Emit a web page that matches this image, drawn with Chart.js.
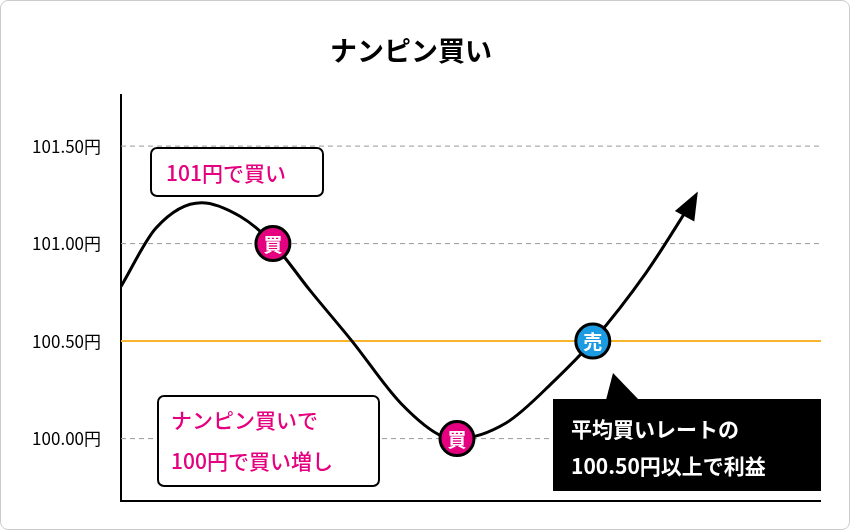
<!DOCTYPE html>
<html><head><meta charset="utf-8">
<script src="https://cdn.jsdelivr.net/npm/chart.js@4/dist/chart.umd.min.js"></script>
<style>
html,body{margin:0;padding:0;background:#fff;}
#wrap{position:relative;width:850px;height:530px;box-sizing:border-box;border:1px solid #ccc;border-radius:8px;overflow:hidden;}
canvas{position:absolute;left:0;top:0;}
</style></head><body>
<div id="wrap"><canvas id="c" width="850" height="530"></canvas></div>
<script>
const title = "ナンピン買い";
const tickValues = [100.00, 100.50, 101.00, 101.50];
const avgRate = 100.50;
const curveX = [0, 5, 11.5, 17, 21.7, 27, 33, 40, 46, 48, 55, 62, 67.4, 75, 82];
const curveY = [100.78, 101.08, 101.21, 101.14, 101.0, 100.76, 100.5, 100.18, 100.01, 100.0, 100.08, 100.3, 100.5, 100.85, 101.24];
const markerX = [21.7, 48, 67.4];
const markerY = [101.0, 100.0, 100.5];
const markerLabels = ["買", "買", "売"];
const noteTop = ["101円で買い"];
const noteBottom = ["ナンピン買いで", "100円で買い増し"];
const noteSell = ["平均買いレートの", "100.50円以上で利益"];

const PINK = "#e4007f", BLUE = "#1b9ce2", FONT = "'Noto Sans CJK JP','Noto Sans',sans-serif";

function rrect(ctx, x, y, w, h, r) {
  ctx.beginPath(); ctx.moveTo(x + r, y); ctx.arcTo(x + w, y, x + w, y + h, r);
  ctx.arcTo(x + w, y + h, x, y + h, r); ctx.arcTo(x, y + h, x, y, r); ctx.arcTo(x, y, x + w, y, r); ctx.closePath();
}

const bgPlugin = {
  id: 'bg',
  beforeDatasetsDraw(chart) {
    const { ctx, chartArea: a, scales: { y } } = chart;
    ctx.save();
    tickValues.forEach(v => {
      const py = y.getPixelForValue(v);
      ctx.beginPath();
      if (v === avgRate) { ctx.setLineDash([]); ctx.strokeStyle = "#f6b52c"; ctx.lineWidth = 2; }
      else { ctx.setLineDash([5, 4]); ctx.strokeStyle = "#999"; ctx.lineWidth = 1; }
      ctx.moveTo(a.left, py); ctx.lineTo(a.right, py); ctx.stroke();
    });
    ctx.setLineDash([]);
    ctx.strokeStyle = "#000"; ctx.lineWidth = 2;
    ctx.beginPath(); ctx.moveTo(a.left, a.bottom); ctx.lineTo(a.right, a.bottom); ctx.stroke();
    ctx.restore();
  },
  afterDatasetsDraw(chart) {
    const { ctx, scales: { x, y } } = chart;
    ctx.save();
    const n = curveX.length;
    const x1 = x.getPixelForValue(curveX[n - 1]), y1 = y.getPixelForValue(curveY[n - 1]);
    const x0 = x.getPixelForValue(curveX[n - 2]), y0 = y.getPixelForValue(curveY[n - 2]);
    const ang = Math.atan2(y1 - y0, x1 - x0) - 0.08;
    ctx.fillStyle = "#000";
    ctx.beginPath();
    ctx.moveTo(x1 + 6 * Math.cos(ang), y1 + 6 * Math.sin(ang));
    ctx.lineTo(x1 - 22 * Math.cos(ang) + 11 * Math.sin(ang), y1 - 22 * Math.sin(ang) - 11 * Math.cos(ang));
    ctx.lineTo(x1 - 22 * Math.cos(ang) - 11 * Math.sin(ang), y1 - 22 * Math.sin(ang) + 11 * Math.cos(ang));
    ctx.closePath(); ctx.fill();
    markerX.forEach((mx, i) => {
      const px = x.getPixelForValue(mx), py = y.getPixelForValue(markerY[i]);
      ctx.beginPath(); ctx.arc(px, py, 17, 0, Math.PI * 2);
      ctx.fillStyle = markerLabels[i] === "売" ? BLUE : PINK; ctx.fill();
      ctx.lineWidth = 3; ctx.strokeStyle = "#000"; ctx.stroke();
      ctx.fillStyle = "#fff"; ctx.font = "bold 19px " + FONT; ctx.textAlign = "center"; ctx.textBaseline = "middle";
      ctx.fillText(markerLabels[i], px, py + 1);
    });
    ctx.lineWidth = 2; ctx.strokeStyle = "#000";
    rrect(ctx, 150, 147, 172, 48, 6); ctx.fillStyle = "#fff"; ctx.fill(); ctx.stroke();
    rrect(ctx, 157, 395, 221, 90, 6); ctx.fill(); ctx.stroke();
    ctx.font = "500 21px " + FONT; ctx.fillStyle = PINK; ctx.textAlign = "left"; ctx.textBaseline = "middle";
    ctx.fillText(noteTop[0], 165, 172);
    ctx.fillText(noteBottom[0], 170, 419);
    ctx.fillText(noteBottom[1], 170, 460);
    ctx.fillStyle = "#000";
    ctx.beginPath(); ctx.moveTo(612, 372); ctx.lineTo(638, 399); ctx.lineTo(605, 399); ctx.closePath(); ctx.fill();
    ctx.fillRect(552, 398, 268, 92);
    ctx.fillStyle = "#fff"; ctx.font = "bold 21px " + FONT;
    ctx.fillText(noteSell[0], 570, 428);
    ctx.fillText(noteSell[1], 570, 465);
    ctx.restore();
  }
};

new Chart(document.getElementById('c'), {
  type: 'scatter',
  data: { datasets: [{
    data: curveX.map((v, i) => ({ x: v, y: curveY[i] })),
    showLine: true, borderColor: '#000', borderWidth: 3, pointRadius: 0,
    cubicInterpolationMode: 'monotone', fill: false
  }]},
  options: {
    responsive: false, animation: false,
    layout: { padding: { top: 34, bottom: 30, right: 30, left: 0 } },
    plugins: {
      legend: { display: false }, tooltip: { enabled: false },
      title: { display: true, text: title, font: { size: 27, weight: 'bold', family: FONT }, color: '#000',
        padding: { top: 0, bottom: 28 } }
    },
    scales: {
      x: { type: 'linear', min: 0, max: 100, display: false },
      y: {
        min: 99.68, max: 101.76,
        afterBuildTicks: s => { s.ticks = tickValues.map(v => ({ value: v })); },
        afterFit: s => { s.width = 120; },
        ticks: { callback: v => Number(v).toFixed(2) + "円", color: '#000', font: { size: 17, family: FONT }, padding: 12 },
        grid: { display: false },
        border: { display: true, color: '#000', width: 2 }
      }
    }
  },
  plugins: [bgPlugin]
});
</script>
</body></html>
